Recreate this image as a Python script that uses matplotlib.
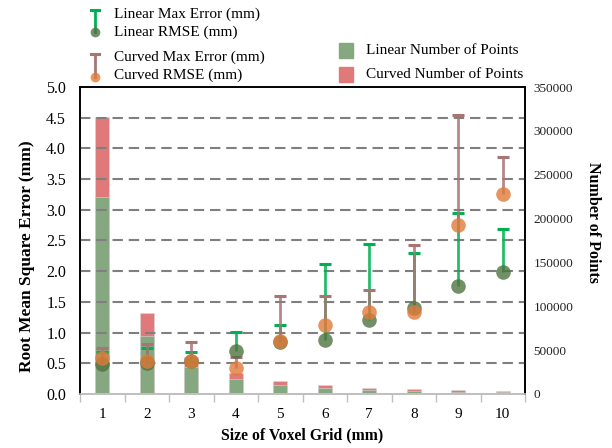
import matplotlib
matplotlib.use("Agg")
import matplotlib.pyplot as plt
from matplotlib.lines import Line2D
from matplotlib.patches import Rectangle
import numpy as np

plt.rcParams['font.family'] = ['Liberation Serif', 'DejaVu Serif']

# data
grid_size = [1, 2, 3, 4, 5, 6, 7, 8, 9, 10]
linear_rmse = [0.49, 0.50, 0.54, 0.70, 0.85, 0.88, 1.20, 1.40, 1.76, 1.99]
linear_max = [0.69, 0.75, 0.69, 1.01, 1.13, 2.12, 2.45, 2.30, 2.94, 2.69]
curved_rmse = [0.59, 0.54, 0.54, 0.43, 0.87, 1.13, 1.34, 1.33, 2.75, 3.26]
curved_max = [0.75, 0.81, 0.84, 0.60, 1.59, 1.60, 1.70, 2.42, 4.55, 3.86]
linear_points = [225000, 66500, 31000, 16800, 10300, 7200, 4600, 3400, 2800, 2200]
curved_points = [315500, 92000, 42500, 23500, 14800, 9900, 7200, 5700, 4200, 3800]

c_lin_bar = '#86a881'
c_cur_bar = '#e07a7a'
c_lin_pt = '#4f7340'
c_cur_pt = '#e07b39'
c_lin_err = '#00b050'
c_cur_err = '#a87474'

fig = plt.figure(figsize=(6.12, 4.48), dpi=100)
ax = fig.add_axes([80/612, 1-394/448, 445/612, 307/448])
ax2 = ax.twinx()
ax.set_zorder(ax2.get_zorder() + 1)
ax.patch.set_visible(False)

x = np.array(grid_size)

# bars on the right axis
ax2.bar(x, curved_points, width=0.32, color=c_cur_bar, edgecolor='#d8d8d8', linewidth=0.4)
ax2.bar(x, linear_points, width=0.32, color=c_lin_bar, edgecolor='#d8d8d8', linewidth=0.4)
ax2.set_ylim(0, 350000)
ax2.set_yticks(np.arange(0, 350001, 50000))
ax2.tick_params(axis='y', length=0, labelsize=9.5, pad=6, colors='#222222')
ax2.set_ylabel('Number of Points', rotation=-90, fontweight='bold', fontsize=11.5, va='center')
ax2.yaxis.set_label_coords(1.153, 0.56)

# grid
for g in np.arange(0.5, 4.51, 0.5):
    ax.axhline(g, color='#7f7f7f', lw=1.5, ls=(0, (5, 2.8)), zorder=1)

# error bars (from rmse up to max)
ax.vlines(x, linear_rmse, linear_max, color=c_lin_err, lw=2, alpha=0.85, zorder=3)
ax.plot(x, linear_max, ls='none', marker='_', ms=8, mew=2.2, color=c_lin_err, zorder=3)
ax.vlines(x, curved_rmse, curved_max, color=c_cur_err, lw=2, alpha=0.85, zorder=3)
ax.plot(x, curved_max, ls='none', marker='_', ms=8, mew=2.2, color=c_cur_err, zorder=3)

ax.plot(x, linear_rmse, ls='none', marker='o', ms=10.5, color=c_lin_pt, alpha=0.8, mew=0, zorder=4)
ax.plot(x, curved_rmse, ls='none', marker='o', ms=10.5, color=c_cur_pt, alpha=0.8, mew=0, zorder=5)

ax.set_xlim(0.5, 10.5)
ax.set_ylim(0, 5)
ax.set_yticks(np.arange(0, 5.01, 0.5))
ax.set_yticklabels([f'{v:.1f}' for v in np.arange(0, 5.01, 0.5)])
ax.set_xticks(x)
ax.set_xticks(np.arange(0.5, 10.6, 1), minor=True)
ax.tick_params(axis='x', which='major', length=0, labelsize=11, pad=10)
ax.tick_params(axis='x', which='minor', length=6, color='#bfbfbf', width=1)
ax.tick_params(axis='y', length=0, labelsize=11.5, pad=10)
ax.set_ylabel('Root Mean Square Error (mm)', fontweight='bold', fontsize=12.5, va='center')
ax.yaxis.set_label_coords(-0.119, 0.45)
ax.set_xlabel('Size of Voxel Grid (mm)', fontweight='bold', fontsize=11.3, labelpad=5)

for a in (ax, ax2):
    for s in ('left', 'top', 'right'):
        a.spines[s].set_color('black')
        a.spines[s].set_linewidth(1.2)
    a.spines['bottom'].set_color('#bfbfbf')
    a.spines['bottom'].set_linewidth(1.2)

# legend drawn by hand in figure pixels
def fx(px):
    return px / 612

def fy(py):
    return 1 - py / 448

def add_line(x0, y0, x1, y1, **kw):
    fig.add_artist(Line2D([fx(x0), fx(x1)], [fy(y0), fy(y1)], transform=fig.transFigure, **kw))

add_line(95, 10, 95, 32, color=c_lin_err, lw=2)
add_line(91, 10, 99, 10, color=c_lin_err, lw=2.2)
fig.add_artist(Line2D([fx(95)], [fy(32)], marker='o', ms=7, color=c_lin_pt, alpha=0.8, mew=0, transform=fig.transFigure))
add_line(95, 54, 95, 77, color=c_cur_err, lw=2)
add_line(91, 54, 99, 54, color=c_cur_err, lw=2.2)
fig.add_artist(Line2D([fx(95)], [fy(77)], marker='o', ms=7, color=c_cur_pt, alpha=0.8, mew=0, transform=fig.transFigure))

fs = 11
fig.text(fx(114), fy(14), 'Linear Max Error (mm)', fontsize=fs, va='center')
fig.text(fx(114), fy(32), 'Linear RMSE (mm)', fontsize=fs, va='center')
fig.text(fx(114), fy(57), 'Curved Max Error (mm)', fontsize=fs, va='center')
fig.text(fx(114), fy(75), 'Curved RMSE (mm)', fontsize=fs, va='center')

fig.add_artist(Rectangle((fx(339), fy(58)), 14/612, 15/448, color=c_lin_bar, transform=fig.transFigure))
fig.add_artist(Rectangle((fx(339), fy(82)), 14/612, 15/448, color=c_cur_bar, transform=fig.transFigure))
fig.text(fx(366), fy(51), 'Linear Number of Points', fontsize=fs, va='center')
fig.text(fx(366), fy(75), 'Curved Number of Points', fontsize=fs, va='center')

fig.savefig('out.png', dpi=100)
